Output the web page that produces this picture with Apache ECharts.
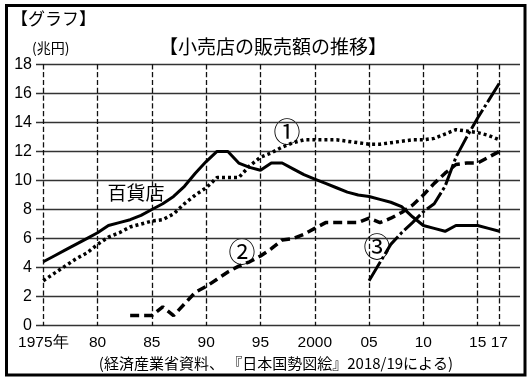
<!DOCTYPE html>
<html><head><meta charset="utf-8">
<script src="https://cdn.jsdelivr.net/npm/echarts@6/dist/echarts.min.js"></script>
<style>html,body{margin:0;padding:0;background:#fff}#c{width:532px;height:380px}</style>
</head><body><div id="c"></div>
<script>
// Data (兆円)
const years = [];
for (let y = 1975; y <= 2017; y++) years.push(y);
const deptStore = [4.4,4.8,5.2,5.6,6.0,6.4,6.9,7.1,7.3,7.6,8.0,8.4,8.9,9.6,10.5,11.3,12.0,12.0,11.2,10.9,10.7,11.2,11.2,10.8,10.4,10.1,9.8,9.5,9.2,9.0,8.9,8.7,8.5,8.2,7.5,6.9,6.7,6.5,6.9,6.9,6.9,6.7,6.5];
const series1 = [3.1,3.6,4.1,4.6,5.0,5.6,6.1,6.4,6.8,7.0,7.2,7.3,7.7,8.4,9.0,9.5,10.2,10.2,10.2,11.0,11.6,11.9,12.3,12.6,12.8,12.8,12.8,12.8,12.7,12.6,12.5,12.5,12.6,12.7,12.8,12.8,12.9,13.2,13.5,13.4,13.3,13.1,12.8];
const years2 = [];
for (let y = 1983; y <= 2017; y++) years2.push(y);
const series2 = [0.7,0.7,0.7,1.3,0.7,1.5,2.3,2.7,3.2,3.7,4.1,4.4,4.8,5.3,5.9,6.0,6.3,6.7,7.1,7.1,7.1,7.1,7.4,7.1,7.4,7.8,8.3,9.0,9.8,10.5,11.1,11.2,11.2,11.6,12.0];
const years3 = [];
for (let y = 2005; y <= 2017; y++) years3.push(y);
const series3 = [3.1,4.35,5.6,6.4,7.1,7.85,8.4,9.6,11.6,13.0,14.3,15.5,16.7];
const xTicks = [1975,1980,1985,1990,1995,2000,2005,2010,2015,2017];
const xTickLabels = ['1975年','80','85','90','95','2000','05','10','15','17'];
const yRange = [0, 18];

const zip = (xs, vs) => xs.map((x, i) => [x, vs[i]]);
const numFont = '"Liberation Sans Narrow","Liberation Sans",Arial,sans-serif';
const jpFont = '"Noto Sans CJK JP",sans-serif';

const chart = echarts.init(document.getElementById('c'), null, {renderer:'canvas'});
chart.setOption({
  animation:false,
  backgroundColor:'#fff',
  grid:{left:36,right:12,top:64.3,bottom:54.3,containLabel:false},
  xAxis:{
    type:'value', min:1974.33, max:2018.9,
    axisLine:{show:false},
    axisTick:{show:false, customValues:xTicks},
    splitLine:{show:true, lineStyle:{color:'#111', width:1.3, type:'dashed', dashOffset:0}},
    axisLabel:{
      customValues:xTicks, margin:9, color:'#000', fontSize:15.5, fontFamily:numFont,
      formatter:(v)=>{const i=xTicks.indexOf(Math.round(v));return i>=0?xTickLabels[i]:'';}
    }
  },
  yAxis:{
    type:'value', min:yRange[0], max:yRange[1], interval:2,
    axisLine:{show:false}, axisTick:{show:false},
    axisLabel:{margin:4, color:'#000', fontSize:16, fontFamily:numFont},
    splitLine:{show:true, lineStyle:{color:'#333', width:1.3}}
  },
  series:[
    {type:'line', data:zip(years, deptStore), symbol:'none', silent:true, z:3,
     lineStyle:{color:'#000', width:3, type:'solid'}},
    {type:'line', data:zip(years, series1), symbol:'none', silent:true, z:3,
     lineStyle:{color:'#000', width:3.5, type:[3,3], cap:'butt'}},
    {type:'line', data:zip(years2, series2), symbol:'none', silent:true, z:3,
     lineStyle:{color:'#000', width:3.5, type:[9,5], cap:'butt'}},
    {type:'line', data:zip(years3, series3), symbol:'none', silent:true, z:3,
     lineStyle:{color:'#000', width:3, type:[22,3,3,3], cap:'butt'}}
  ],
  graphic:[
    {type:'rect', shape:{x:6.5,y:5.5,width:518.5,height:369.5}, style:{fill:'none', stroke:'#000', lineWidth:3}, silent:true},
    {type:'text', left:11, top:10, style:{text:'【グラフ】', font:'17px '+jpFont, fill:'#000'}},
    {type:'text', left:32, top:41, style:{text:'(兆円)', font:'14px '+jpFont, fill:'#000'}},
    {type:'text', x:273, y:47, style:{text:'【小売店の販売額の推移】', font:'19px '+jpFont, fill:'#000', align:'center', verticalAlign:'middle'}},
    {type:'text', x:136, y:193, style:{text:'百貨店', font:'19px '+jpFont, fill:'#000', align:'center', verticalAlign:'middle'}},
    {type:'text', x:287, y:132, style:{text:'①', font:'27px '+jpFont, fill:'#000', align:'center', verticalAlign:'middle'}},
    {type:'text', x:242, y:252, style:{text:'②', font:'27px '+jpFont, fill:'#000', align:'center', verticalAlign:'middle'}},
    {type:'text', x:377, y:247, style:{text:'③', font:'27px '+jpFont, fill:'#000', align:'center', verticalAlign:'middle'}},
    {type:'text', x:276, y:363, style:{text:'(経済産業省資料、 『日本国勢図絵』2018/19による)', font:'15px '+jpFont, fill:'#000', align:'center', verticalAlign:'middle'}}
  ]
});
</script></body></html>
